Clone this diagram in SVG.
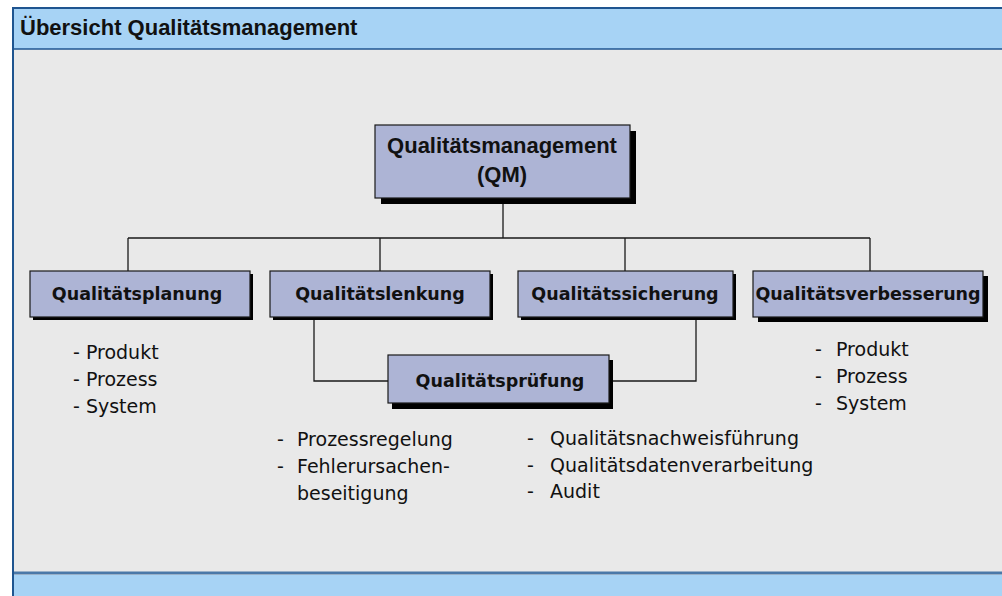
<svg xmlns="http://www.w3.org/2000/svg" width="1002" height="596" viewBox="0 0 1002 596">
  <style>
    .box { fill: #adb4d5; stroke: #1a1a1a; stroke-width: 1.2; }
    .shadow { fill: #000; }
    .lbl { font-family: "DejaVu Sans", Verdana, sans-serif; font-weight: bold; font-size: 17.5px; fill: #111; text-anchor: middle; }
    .main { font-family: "Liberation Sans", Arial, sans-serif; font-weight: bold; font-size: 22px; fill: #111; text-anchor: middle; }
    .item { font-family: "DejaVu Sans", Verdana, sans-serif; font-size: 19px; fill: #111; }
    .wire { fill: none; stroke: #1a1a1a; stroke-width: 1.3; }
  </style>

  <!-- page frame -->
  <rect x="0" y="0" width="1002" height="596" fill="#ffffff"/>
  <rect x="12" y="8" width="990" height="588" fill="#e9e9e9"/>
  <rect x="12" y="8" width="990" height="41" fill="#a7d3f5"/>
  <line x1="12" y1="8" x2="1002" y2="8" stroke="#1f5590" stroke-width="2"/>
  <line x1="12" y1="49" x2="1002" y2="49" stroke="#1f5590" stroke-width="1.5"/>
  <rect x="12" y="575" width="990" height="21" fill="#a7d3f5"/>
  <line x1="12" y1="573" x2="1002" y2="573" stroke="#4a78a8" stroke-width="3"/>
  <line x1="13" y1="8" x2="13" y2="596" stroke="#1f5590" stroke-width="2"/>
  <text x="20" y="35" font-family="Liberation Sans, Arial, sans-serif" font-weight="bold" font-size="22" fill="#111">Übersicht Qualitätsmanagement</text>

  <!-- connectors -->
  <g id="connectors">
    <path class="wire" d="M503 198 V238 M128 238 H870 M128 238 V271 M380 238 V271 M625 238 V271 M870 238 V271"/>
    <path class="wire" d="M314 317 V381 H388 M609 381 H696 V317"/>
  </g>

  <g id="qm">
    <rect class="shadow" x="381" y="131" width="255" height="73"/>
    <rect class="box" x="375" y="125" width="255" height="73"/>
    <text class="main" x="502" y="153">Qualitätsmanagement</text>
    <text class="main" x="502" y="182">(QM)</text>
  </g>

  <g id="planung">
    <rect class="shadow" x="33" y="274" width="220" height="46"/>
    <rect class="box" x="30" y="271" width="220" height="46"/>
    <text class="lbl" x="137" y="300">Qualitätsplanung</text>
  </g>

  <g id="lenkung">
    <rect class="shadow" x="273" y="274" width="220" height="46"/>
    <rect class="box" x="270" y="271" width="220" height="46"/>
    <text class="lbl" x="380" y="300">Qualitätslenkung</text>
  </g>

  <g id="sicherung">
    <rect class="shadow" x="521" y="274" width="215" height="46"/>
    <rect class="box" x="518" y="271" width="215" height="46"/>
    <text class="lbl" x="625" y="300">Qualitätssicherung</text>
  </g>

  <g id="verbesserung">
    <rect class="shadow" x="758" y="276" width="230" height="46"/>
    <rect class="box" x="753" y="271" width="230" height="46"/>
    <text class="lbl" x="868" y="300">Qualitätsverbesserung</text>
  </g>

  <g id="pruefung">
    <rect class="shadow" x="392" y="360" width="221" height="49"/>
    <rect class="box" x="388" y="355" width="221" height="48"/>
    <text class="lbl" x="500" y="387">Qualitätsprüfung</text>
  </g>

  <g id="list-planung">
    <text class="item" x="73" y="359">- Produkt</text>
    <text class="item" x="73" y="386">- Prozess</text>
    <text class="item" x="73" y="413">- System</text>
  </g>

  <g id="list-verbesserung">
    <text class="item" x="815" y="356">-</text>
    <text class="item" x="836" y="356">Produkt</text>
    <text class="item" x="815" y="383">-</text>
    <text class="item" x="836" y="383">Prozess</text>
    <text class="item" x="815" y="410">-</text>
    <text class="item" x="836" y="410">System</text>
  </g>

  <g id="list-lenkung">
    <text class="item" x="277" y="446">-</text>
    <text class="item" x="297" y="446">Prozessregelung</text>
    <text class="item" x="277" y="473">-</text>
    <text class="item" x="297" y="473">Fehlerursachen-</text>
    <text class="item" x="297" y="500">beseitigung</text>
  </g>

  <g id="list-sicherung">
    <text class="item" x="527" y="445">-</text>
    <text class="item" x="550" y="445">Qualitätsnachweisführung</text>
    <text class="item" x="527" y="472">-</text>
    <text class="item" x="550" y="472">Qualitätsdatenverarbeitung</text>
    <text class="item" x="527" y="498">-</text>
    <text class="item" x="550" y="498">Audit</text>
  </g>
</svg>
